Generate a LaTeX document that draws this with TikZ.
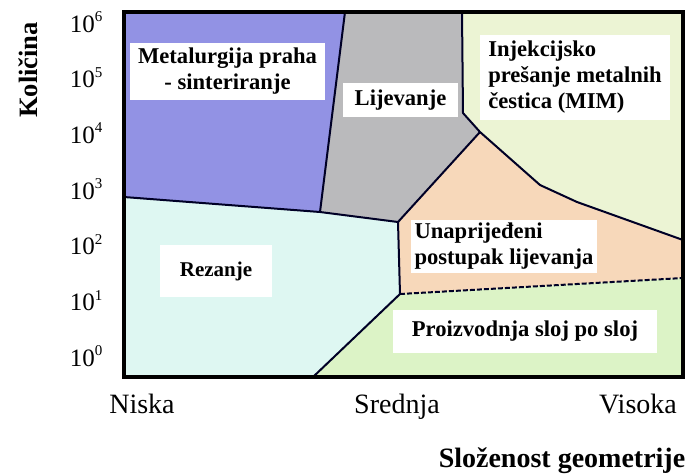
\documentclass[tikz,border=0pt]{standalone}
\usepackage{fontspec}
\setmainfont{Liberation Serif}
\definecolor{pmblue}{RGB}{146,146,228}
\definecolor{castgray}{RGB}{186,186,188}
\definecolor{mimgreen}{RGB}{236,244,212}
\definecolor{advorange}{RGB}{247,216,186}
\definecolor{cutcyan}{RGB}{222,247,242}
\definecolor{amgreen}{RGB}{220,243,198}
\newcommand{\qexp}[1]{10\raisebox{0.42em}{\fontsize{15}{15}\selectfont #1}}
\begin{document}
\begin{tikzpicture}[x=1pt,y=-1pt,
	border/.style={draw=black!85!blue,line width=2pt,line join=round},
	lbl/.style={fill=white,inner sep=0pt,font=\fontsize{22.6}{26}\selectfont\bfseries},
	tick/.style={anchor=base east,font=\fontsize{25}{25}\selectfont},
	axis/.style={anchor=base,font=\fontsize{28}{28}\selectfont}]
	%\draw[lightgray] (0,0) grid[step=50] (694,475);
	\useasboundingbox (0,0) rectangle (694,475);
	\coordinate (TL) at (124,12);
	\coordinate (TR) at (683,12);
	\coordinate (BR) at (683,377);
	\coordinate (BL) at (124,377);
	\coordinate (B1) at (345,12);
	\coordinate (B2) at (320,212);
	\coordinate (L1) at (124,197);
	\coordinate (G1) at (398,222);
	\coordinate (M1) at (462,12);
	\coordinate (M2) at (463,113);
	\coordinate (A) at (480,132);
	\coordinate (M3) at (540,185);
	\coordinate (M4) at (577,202);
	\coordinate (R1) at (683,240);
	\coordinate (O1) at (400,294);
	\coordinate (R2) at (683,278);
	\coordinate (C1) at (313,377);
	% regions
	\fill[pmblue] (TL) -- (B1) -- (B2) -- (L1) -- cycle;
	\fill[castgray] (B1) -- (M1) -- (M2) -- (A) -- (G1) -- (B2) -- cycle;
	\fill[mimgreen] (M1) -- (TR) -- (R1) -- (M4) -- (M3) -- (A) -- (M2) -- cycle;
	\fill[advorange] (A) -- (M3) -- (M4) -- (R1) -- (R2) -- (O1) -- (G1) -- cycle;
	\fill[cutcyan] (L1) -- (B2) -- (G1) -- (O1) -- (C1) -- (BL) -- cycle;
	\fill[amgreen] (O1) -- (R2) -- (BR) -- (C1) -- cycle;
	% boundaries
	\draw[border] (B1) -- (B2);
	\draw[border] (L1) -- (B2) -- (G1) -- (O1) -- (C1);
	\draw[border] (M1) -- (M2) -- (A) -- (M3) -- (M4) -- (R1);
	\draw[border] (A) -- (G1);
	\draw[border,dashed,dash pattern=on 5pt off 2pt] (O1) -- (R2);
	\draw[line width=3.2pt,line join=miter] (TL) rectangle (BR);
	% labels
	\node[lbl,align=center,minimum width=195pt,minimum height=57pt] (pm) at (227.5,71.5) {Metalurgija praha\\- sinteriranje};
	\node[lbl,minimum width=115pt,minimum height=34pt] (cast) at (400.5,100) {Lijevanje};
	\node[lbl,align=left,minimum width=190pt,minimum height=85pt] (mim) at (575,77) {Injekcijsko\\prešanje metalnih\\čestica (MIM)};
	\node[lbl,align=left,minimum width=186pt,minimum height=53pt] (adv) at (504,246.5) {Unaprijeđeni\\postupak lijevanja};
	\node[lbl,minimum width=112pt,minimum height=52pt,font=\fontsize{21}{24}\selectfont\bfseries] (cut) at (216,271) {Rezanje};
	\node[lbl,minimum width=264pt,minimum height=43pt] (am) at (525,331.5) {Proizvodnja sloj po sloj};
	% axes
	\foreach \e [count=\i from 0] in {6,5,4,3,2,1,0}
		\node[tick] (t\e) at (106,32+55.7*\i) {\qexp{\e}};
	\node[axis,rotate=90,anchor=center,font=\fontsize{26.5}{26.5}\selectfont\bfseries] (qty) at (28,70) {Količina};
	\node[axis] (low) at (142,413) {Niska};
	\node[axis] (mid) at (397,413) {Srednja};
	\node[axis] (high) at (638,413) {Visoka};
	\node[axis,font=\fontsize{28}{28}\selectfont\bfseries] (cplx) at (562,467) {Složenost geometrije};
\end{tikzpicture}
\end{document}
